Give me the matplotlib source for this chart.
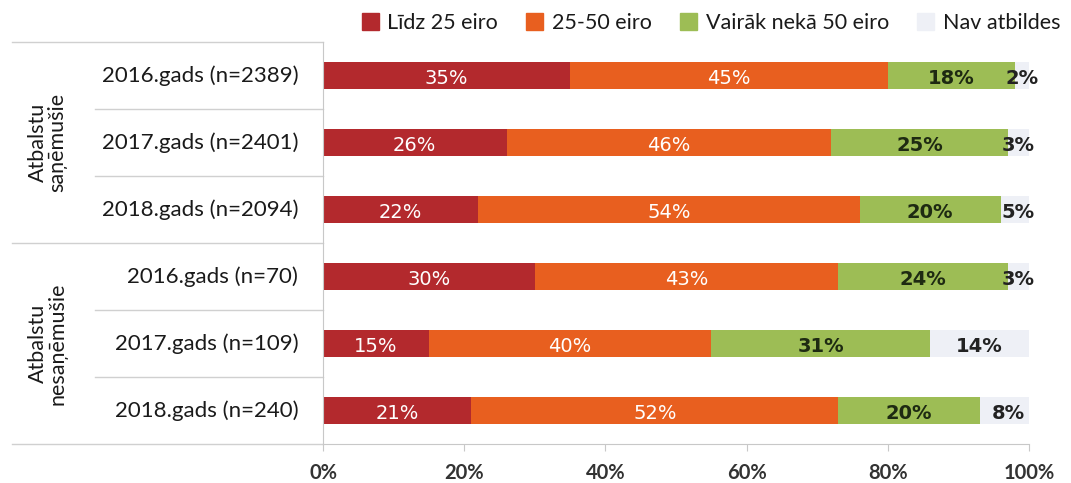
import matplotlib.pyplot as plt
import numpy as np
from matplotlib.patches import Patch

# data
categories = ["2016.gads (n=2389)", "2017.gads (n=2401)", "2018.gads (n=2094)",
              "2016.gads (n=70)", "2017.gads (n=109)", "2018.gads (n=240)"]
groups = ["Atbalstu\nsaņēmušie", "Atbalstu\nnesaņēmušie"]
series_names = ["Līdz 25 eiro", "25-50 eiro", "Vairāk nekā 50 eiro", "Nav atbildes"]
lidz25 = [35, 26, 22, 30, 15, 21]
no25lidz50 = [45, 46, 54, 43, 40, 52]
virs50 = [18, 25, 20, 24, 31, 20]
nav = [2, 3, 5, 3, 14, 8]
xticks = [0, 20, 40, 60, 80, 100]

colors = ["#b3292d", "#e85f1f", "#9dbd55", "#eef0f6"]
label_colors = ["white", "white", "#1e2a12", "#222222"]
label_weights = ["normal", "normal", "bold", "bold"]

plt.rcParams['font.family'] = ['Lato', 'DejaVu Sans']

fig = plt.figure(figsize=(10.71, 4.83), dpi=100)
ax = fig.add_axes([0.3016, 0.0807, 0.6592, 0.8323])

y = np.arange(len(categories))
left = np.zeros(len(categories))
all_series = [lidz25, no25lidz50, virs50, nav]
for i, vals in enumerate(all_series):
    vals = np.array(vals, dtype=float)
    ax.barh(y, vals, left=left, height=0.4, color=colors[i], label=series_names[i])
    for j in range(len(vals)):
        ax.text(left[j] + vals[j] / 2, y[j] + 0.04, f"{int(vals[j])}%",
                ha="center", va="center", fontsize=14, color=label_colors[i],
                fontweight=label_weights[i], family="DejaVu Sans")
    left += vals

ax.set_xlim(0, 100)
ax.set_ylim(5.5, -0.5)
ax.set_yticks([])
ax.set_xticks(xticks)
ax.set_xticklabels([f"{t}%" for t in xticks], fontsize=14.5, color="#333333", fontweight="bold")
ax.tick_params(axis="x", length=5, color="#c8c8c8", direction="out", pad=9)
for s in ["top", "right"]:
    ax.spines[s].set_visible(False)
ax.spines["left"].set_color("#c8c8c8")
ax.spines["bottom"].set_color("#c8c8c8")

tr = ax.get_yaxis_transform()
for j, cat in enumerate(categories):
    ax.text(-0.035, y[j], cat, transform=tr, ha="right", va="center",
            fontsize=16, color="#1a1a1a")
for yy in [0.5, 1.5, 3.5, 4.5]:
    ax.plot([-0.323, 0], [yy, yy], transform=tr, color="#d0d0d0", lw=1, clip_on=False)
for yy in [-0.5, 2.5, 5.5]:
    ax.plot([-0.44, 0], [yy, yy], transform=tr, color="#d0d0d0", lw=1, clip_on=False)

ax.text(-0.39, 1.0, groups[0], transform=tr, rotation=90, ha="center", va="center",
        fontsize=15.5, color="#1a1a1a", linespacing=1.0)
ax.text(-0.39, 4.0, groups[1], transform=tr, rotation=90, ha="center", va="center",
        fontsize=15.5, color="#1a1a1a", linespacing=1.0)

handles = [Patch(color=c) for c in colors]
fig.legend(handles, series_names, loc="center right", bbox_to_anchor=(1.008, 0.952),
           ncol=4, frameon=False, fontsize=15.5, handlelength=0.8, handleheight=0.8,
           handletextpad=0.4, columnspacing=1.3, labelcolor="#1a1a1a")

fig.savefig("out.png", dpi=100)
